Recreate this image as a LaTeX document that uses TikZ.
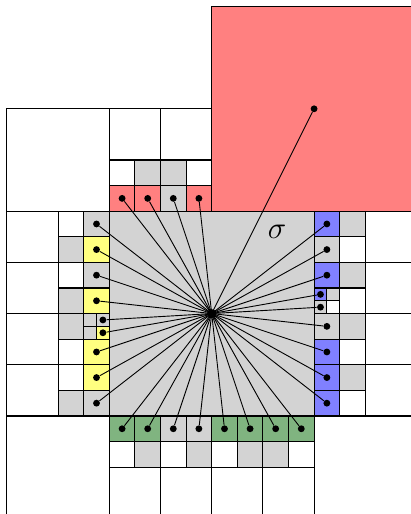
\documentclass[tikz,border=0pt]{standalone}
\usetikzlibrary{positioning}
\definecolor{cellG}{RGB}{211,211,211}
\definecolor{cellR}{RGB}{255,128,128}
\definecolor{cellY}{RGB}{255,255,128}
\definecolor{cellB}{RGB}{128,128,255}
\definecolor{cellV}{RGB}{128,180,128}

\begin{document}
\begin{tikzpicture}[x=0.5cm, y=0.5cm,
    box/.style={draw=black, line width=0.6pt},
    dot/.style={circle, fill=black, inner sep=0pt, minimum size=3.8pt},
    link/.style={line width=0.5pt}]
  \useasboundingbox (-4.27,-3.83) rectangle (11.78,16.25);
  \clip (-4.27,-3.83) rectangle (11.78,16.25);

  % ── sigma and its big red neighbour ─────────────────────────────
  \draw[box, fill=cellG] (0,0) rectangle (8,8);
  \draw[box, fill=cellR] (4,8) rectangle (12,16);
  \node[dot, minimum size=5pt] (ctr) at (4,4) {};
  \node[dot] (big) at (8,12) {};
  \draw[link] (ctr.center) -- (big);
  \node[font=\LARGE] (sig) at (6.55,7.2) {$\sigma$};

  % ── large white cells ───────────────────────────────────────────
  \foreach \x/\y/\s in {-4/8/4, -4/-4/4, 8/-4/4,
                        0/10/2, 2/10/2,
                        -4/6/2, -4/4/2, -4/2/2, -4/0/2,
                        10/6/2, 10/4/2, 10/2/2, 10/0/2,
                        0/-4/2, 2/-4/2, 4/-4/2, 6/-4/2}
    \draw[box, fill=white] (\x,\y) rectangle ++(\s,\s);

  % ── second ring of unit cells (no dots) ─────────────────────────
  \foreach \x/\y/\c in {0/9/white, 1/9/cellG, 2/9/cellG, 3/9/white,
                        -2/7/white, -2/6/cellG, -2/5/white, -2/4/cellG,
                        -2/3/cellG, -2/2/white, -2/1/white, -2/0/cellG,
                        9/7/cellG, 9/6/white, 9/5/cellG, 9/4/white,
                        9/3/cellG, 9/2/white, 9/1/cellG, 9/0/white,
                        0/-2/white, 1/-2/cellG, 2/-2/white, 3/-2/cellG,
                        4/-2/white, 5/-2/cellG, 6/-2/cellG, 7/-2/white}
    \draw[box, fill=\c] (\x,\y) rectangle ++(1,1);

  % ── neighbours touching sigma, top side ─────────────────────────
  \foreach \x/\c [count=\i] in {0/cellR, 1/cellR, 2/cellG, 3/cellR}
    {\draw[box, fill=\c] (\x,8) rectangle ++(1,1);
     \node[dot] (t\i) at (\x+0.5,8.5) {};
     \draw[link] (ctr.center) -- (t\i);}

  % ── left side ───────────────────────────────────────────────────
  \foreach \y/\c [count=\i] in {7/cellG, 6/cellY, 5/cellG, 4/cellY,
                                2/cellY, 1/cellY, 0/cellG}
    {\draw[box, fill=\c] (-1,\y) rectangle ++(1,1);
     \node[dot] (l\i) at (-0.5,\y+0.5) {};
     \draw[link] (ctr.center) -- (l\i);}

  % ── right side ──────────────────────────────────────────────────
  \foreach \y/\c [count=\i] in {7/cellB, 6/cellG, 5/cellB, 3/cellG,
                                2/cellB, 1/cellB, 0/cellB}
    {\draw[box, fill=\c] (8,\y) rectangle ++(1,1);
     \node[dot] (r\i) at (8.5,\y+0.5) {};
     \draw[link] (ctr.center) -- (r\i);}

  % ── bottom side ─────────────────────────────────────────────────
  \foreach \x/\c [count=\i] in {0/cellV, 1/cellV, 2/cellG, 3/cellG,
                                4/cellV, 5/cellV, 6/cellV, 7/cellV}
    {\draw[box, fill=\c] (\x,-1) rectangle ++(1,1);
     \node[dot] (b\i) at (\x+0.5,-0.5) {};
     \draw[link] (ctr.center) -- (b\i);}

  % ── half-size cells ─────────────────────────────────────────────
  \foreach \x/\y/\c in {-1/3.5/cellG, -1/3/cellG, 8.5/4.5/cellG, 8.5/4/white}
    \draw[box, fill=\c] (\x,\y) rectangle ++(0.5,0.5);
  \foreach \x/\y/\c [count=\i] in {-0.5/3.5/cellG, -0.5/3/cellY,
                                   8/4.5/cellB, 8/4/cellG}
    {\draw[box, fill=\c] (\x,\y) rectangle ++(0.5,0.5);
     \node[dot] (h\i) at (\x+0.25,\y+0.25) {};
     \draw[link] (ctr.center) -- (h\i);}
\end{tikzpicture}
\end{document}
